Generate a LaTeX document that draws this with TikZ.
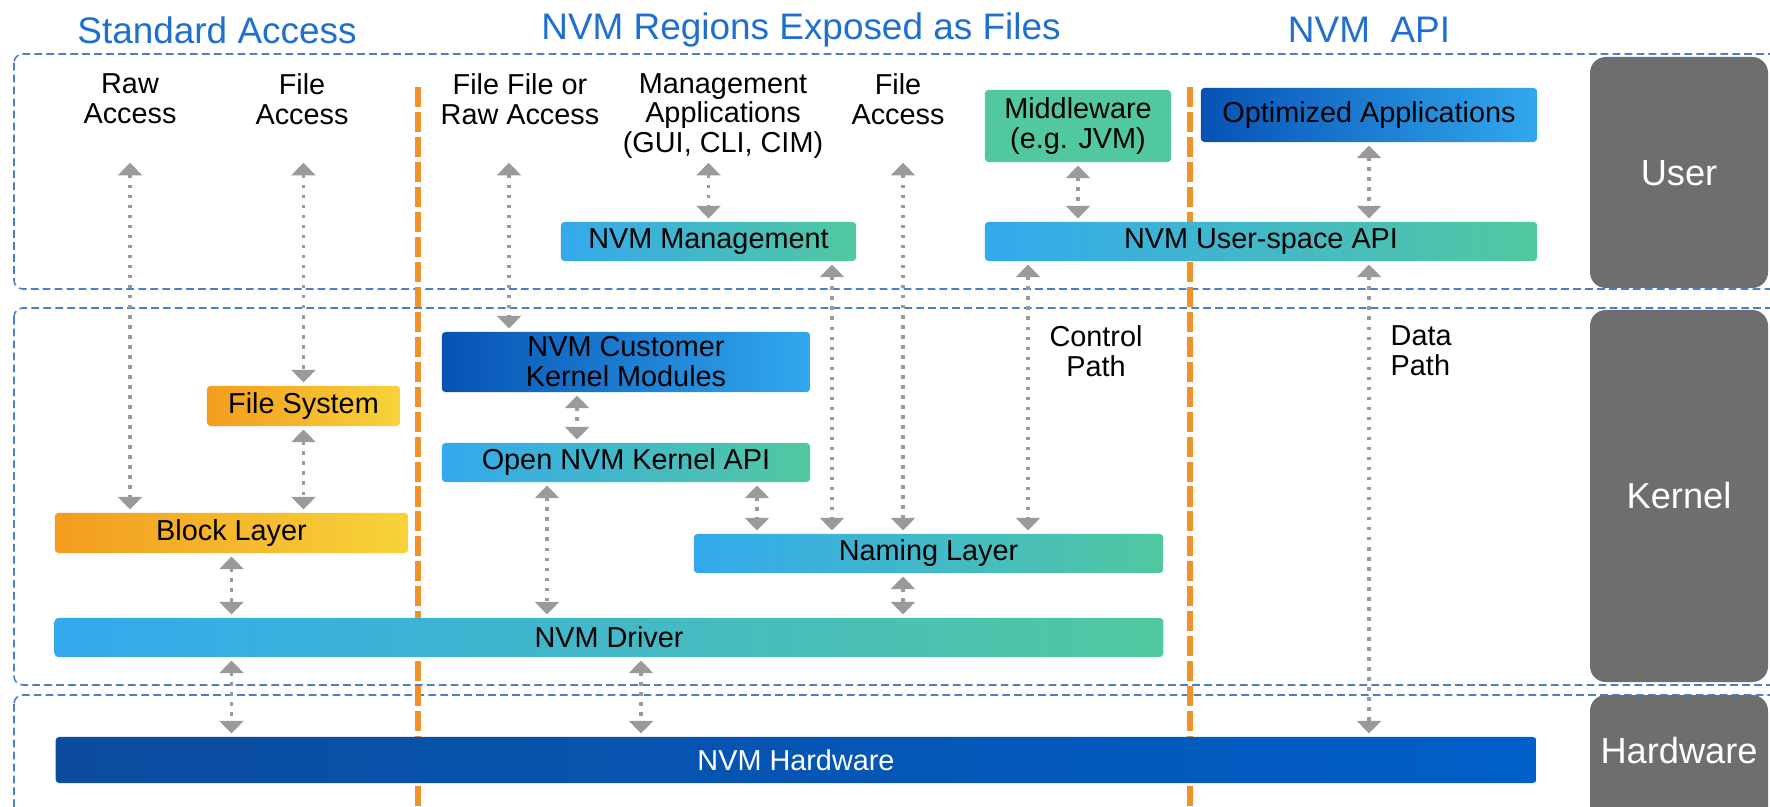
\documentclass[tikz,border=0pt]{standalone}
\usepackage{fontspec}
\setmainfont{Liberation Sans}
\usetikzlibrary{arrows.meta}

\definecolor{hdrblue}{HTML}{1E6FD0}
\definecolor{regionblue}{HTML}{4A7FCF}
\definecolor{divorange}{HTML}{F0922A}
\definecolor{sidegray}{HTML}{6E6E6E}
\definecolor{arrgray}{HTML}{9A9A9A}
\definecolor{skyblue}{HTML}{33A9EE}
\definecolor{tealgreen}{HTML}{52C8A0}
\definecolor{darkblue}{HTML}{0652B4}
\definecolor{midblue}{HTML}{32A8EE}
\definecolor{hwblue}{HTML}{0B4C9F}
\definecolor{hwbluer}{HTML}{005FC8}
\definecolor{orng}{HTML}{F39C1F}
\definecolor{yllw}{HTML}{F7D33A}

\tikzset{
  txt/.style={font=\fontsize{8.2}{8.5}\selectfont, align=center, inner sep=0pt},
  nvmbox/.style={txt, rounded corners=1pt, minimum height=0.39cm},
  bluegreen/.style={nvmbox, left color=skyblue, right color=tealgreen},
  darkgrad/.style={nvmbox, left color=darkblue, right color=midblue},
  orangegrad/.style={nvmbox, left color=orng, right color=yllw},
  hdr/.style={font=\fontsize{10.5}{12}\selectfont, text=hdrblue, inner sep=0pt},
  sidelbl/.style={font=\fontsize{10.3}{12}\selectfont, text=white, inner sep=0pt},
  region/.style={draw=regionblue, line width=0.45pt, dash pattern=on 2.2pt off 1.2pt, rounded corners=2.5pt},
  divider/.style={draw=divorange, line width=1.7pt, dash pattern=on 5.7pt off 1.4pt},
  arr/.style={draw=arrgray, line width=1.1pt, dash pattern=on 1pt off 1.85pt,
    {Triangle[width=6.8pt,length=3.6pt]}-{Triangle[width=6.8pt,length=3.6pt]},
    shorten <=0.8pt, shorten >=0.8pt}
}

\begin{document}
\begin{tikzpicture}[x=0.01cm, y=-0.01cm]
    \clip (0,0) rectangle (1770,807);

    %% headers
    \node[hdr] (hstd) at (217,30)  {Standard Access};
    \node[hdr] (hreg) at (801,30)  {NVM Regions Exposed as Files};
    \node[hdr] (hapi) at (1369,30) {NVM\ \ API};

    %% regions
    \draw[region] (14,54)  rectangle (1800,289);
    \draw[region] (14,308) rectangle (1800,685);
    \draw[region] (14,695) rectangle (1800,840);

    %% side labels
    \fill[sidegray, rounded corners=4.5pt] (1590,57)  rectangle (1768,288);
    \fill[sidegray, rounded corners=4.5pt] (1590,310) rectangle (1768,682);
    \fill[sidegray, rounded corners=4.5pt] (1590,695) rectangle (1768,840);
    \node[sidelbl] (luser) at (1679,173) {User};
    \node[sidelbl] (lkern) at (1679,496) {Kernel};
    \node[sidelbl] (lhw)   at (1679,751) {Hardware};

    %% dividers
    \draw[divider] (418,87)  -- (418,807);
    \draw[divider] (1190,87) -- (1190,807);

    %% user
    \node[txt] (raw)   at (130,99)  {Raw\\Access};
    \node[txt] (fileA) at (302,99)  {File\\Access};
    \node[txt] (frac)  at (520,99)  {File File or\\Raw Access};
    \node[txt] (mapp)  at (723,116) {Management\\Applications\\(GUI, CLI, CIM)};
    \node[txt] (fileB) at (898,99)  {File\\Access};
    \node[nvmbox, fill=tealgreen, minimum width=1.86cm, minimum height=0.72cm] (mware) at (1078,126) {Middleware\\(e.g. JVM)};
    \node[darkgrad, minimum width=3.36cm, minimum height=0.54cm] (optapp) at (1369,115) {Optimized Applications};
    \node[bluegreen, minimum width=2.95cm] (mgmt) at (708.5,241.5) {NVM Management};
    \node[bluegreen, minimum width=5.52cm] (uapi) at (1261,241.5) {NVM User-space API};

    %% kernel
    \node[darkgrad, minimum width=3.68cm, minimum height=0.6cm] (ckm) at (626,362) {NVM Customer\\Kernel Modules};
    \node[orangegrad, minimum width=1.93cm, minimum height=0.4cm] (fs) at (303.5,406) {File System};
    \node[bluegreen, minimum width=3.68cm] (okapi) at (626,462.5) {Open NVM Kernel API};
    \node[orangegrad, minimum width=3.53cm, minimum height=0.4cm] (block) at (231.5,533) {Block Layer};
    \node[bluegreen, minimum width=4.69cm] (naming) at (928.5,553.5) {Naming Layer};
    \node[bluegreen, minimum width=11.08cm] (driver) at (609,637.5) {NVM Driver};
    \node[txt] (ctrl) at (1096,351) {Control\\Path};
    \node[txt, anchor=west, align=left] (data) at (1390,351) {Data\\Path};

    %% hardware
    \node[nvmbox, left color=hwblue, right color=hwbluer, text=white, minimum width=14.8cm, minimum height=0.46cm] (hw) at (796,760) {NVM Hardware};

    %% arrows, user side
    \coordinate (utip)    at (0,160);
    \coordinate (fracarr) at (509,160);
    \coordinate (filearr) at (903,160);
    \coordinate (ctrlA)   at (832,0);
    \coordinate (ctrlB)   at (1028,0);
    \draw[arr] (raw |- utip) -- (raw |- block.north);
    \draw[arr] (fs.north |- utip) -- (fs.north);
    \draw[arr] (fracarr) -- (fracarr |- ckm.north);
    \draw[arr] (mgmt.north |- utip) -- (mgmt.north);
    \draw[arr] (filearr) -- (filearr |- naming.north);
    \draw[arr] (mware.south) -- (mware.south |- uapi.north);
    \draw[arr] (optapp.south) -- (optapp.south |- uapi.north);
    \draw[arr] (ctrlA |- mgmt.south) -- (ctrlA |- naming.north);
    \draw[arr] (ctrlB |- uapi.south) -- (ctrlB |- naming.north);
    \draw[arr] (optapp.south |- uapi.south) -- (optapp.south |- hw.north);

    %% arrows, kernel side
    \coordinate (modarr)  at (577,0);
    \coordinate (apiarrA) at (547,0);
    \coordinate (apiarrB) at (757,0);
    \coordinate (hwarr)   at (641,0);
    \draw[arr] (fs.south) -- (fs.south |- block.north);
    \draw[arr] (modarr |- ckm.south) -- (modarr |- okapi.north);
    \draw[arr] (apiarrA |- okapi.south) -- (apiarrA |- driver.north);
    \draw[arr] (apiarrB |- okapi.south) -- (apiarrB |- naming.north);
    \draw[arr] (block.south) -- (block.south |- driver.north);
    \draw[arr] (filearr |- naming.south) -- (filearr |- driver.north);
    \draw[arr] (block.south |- driver.south) -- (block.south |- hw.north);
    \draw[arr] (hwarr |- driver.south) -- (hwarr |- hw.north);
\end{tikzpicture}
\end{document}
